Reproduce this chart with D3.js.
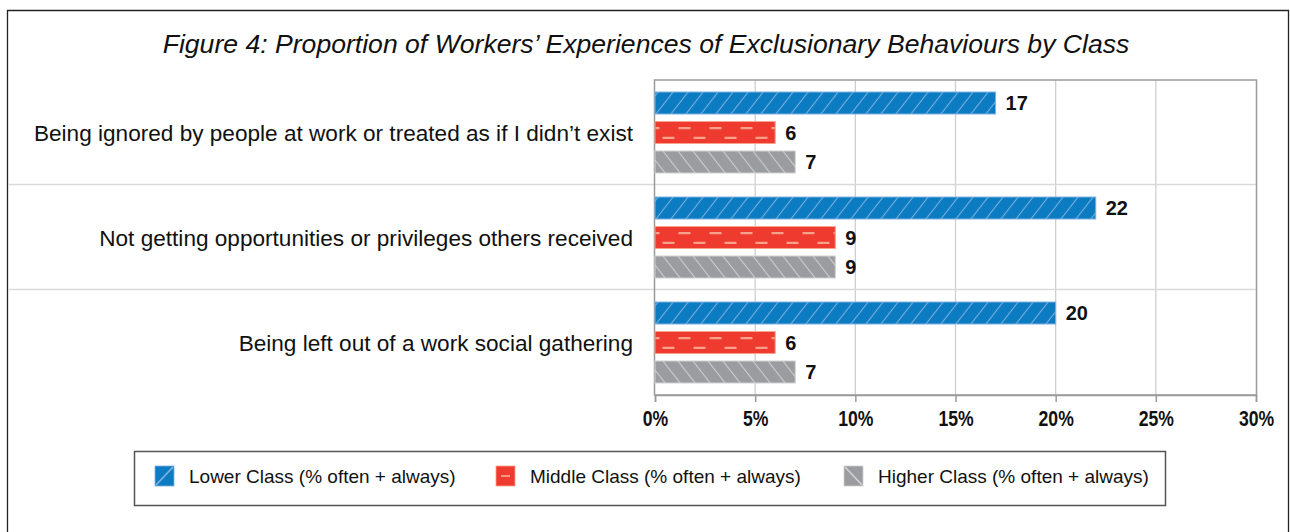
<!DOCTYPE html>
<html>
<head>
<meta charset="utf-8">
<script src="https://cdn.jsdelivr.net/npm/d3@7/dist/d3.min.js"></script>
<style>
  html, body { margin: 0; padding: 0; background: #fff; }
  svg { display: block; }
</style>
</head>
<body>
<svg id="chart" width="1290" height="532"></svg>
<script>
// Behaviours (rows), classes (series) and shares in percent
const categories = [
  "Being ignored by people at work or treated as if I didn’t exist",
  "Not getting opportunities or privileges others received",
  "Being left out of a work social gathering"
];
const seriesNames = [
  "Lower Class (% often + always)",
  "Middle Class (% often + always)",
  "Higher Class (% often + always)"
];
const lowerClass  = [17, 22, 20];
const middleClass = [6, 9, 6];
const higherClass = [7, 9, 7];
const tickValues = [0, 5, 10, 15, 20, 25, 30];
const titleText = "Figure 4: Proportion of Workers’ Experiences of Exclusionary Behaviours by Class";

const seriesValues = [lowerClass, middleClass, higherClass];
const seriesKeys = ["lower", "middle", "higher"];

const svg = d3.select("#chart");
const W = 1290, H = 532;
const plot = { left: 655, right: 1256, top: 80, bottom: 395 };

const fontSans = "'Liberation Sans', Arial, Helvetica, sans-serif";

// ---- fill patterns ----
const defs = svg.append("defs");
const fills = {
  lower:  { base: "#0b7cc1", line: "#80b0e0" },
  middle: { base: "#ee3a2f", line: "#f7a38c" },
  higher: { base: "#9b9c9f", line: "#d0d0d3" }
};

// slanted hatch: vertical strokes sheared into diagonals
function hatch(id, base, line, skew) {
  const p = defs.append("pattern").attr("id", id)
    .attr("patternUnits", "userSpaceOnUse")
    .attr("width", 15).attr("height", 15)
    .attr("patternTransform", `skewX(${skew})`);
  p.append("rect").attr("x", -1).attr("y", -1).attr("width", 17).attr("height", 17).attr("fill", base);
  p.append("line").attr("x1", 7.5).attr("x2", 7.5).attr("y1", -1).attr("y2", 16)
    .attr("stroke", line).attr("stroke-width", 1.3);
}
hatch("pat-lower", fills.lower.base, fills.lower.line, -38);
hatch("pat-higher", fills.higher.base, fills.higher.line, 38);

// ---- outer frame (open at the bottom) ----
svg.append("path")
  .attr("d", `M7.5,${H + 2}V10.5H1288.5V${H + 2}`)
  .attr("fill", "none").attr("stroke", "#222").attr("stroke-width", 1.3);

// ---- title ----
svg.append("text")
  .attr("x", 646).attr("y", 53)
  .attr("text-anchor", "middle")
  .attr("font-family", fontSans).attr("font-style", "italic")
  .attr("font-size", 26.6).attr("fill", "#111")
  .text(titleText);

// ---- scales ----
const x = d3.scaleLinear().domain([0, 30]).range([plot.left, plot.right]);
const y0 = d3.scaleBand().domain(categories).range([plot.top, plot.bottom]).padding(0);
const y1 = d3.scaleBand().domain(seriesKeys).range([0, y0.bandwidth()])
  .paddingInner(0.254).paddingOuter(0.407);

// ---- vertical gridlines ----
svg.append("g").selectAll("line")
  .data(tickValues.slice(1, -1))
  .join("line")
  .attr("x1", d => x(d)).attr("x2", d => x(d))
  .attr("y1", plot.top).attr("y2", plot.bottom)
  .attr("stroke", "#cfcfcf").attr("stroke-width", 1.3);

// ---- row separators extending across the labels ----
svg.append("g").selectAll("line")
  .data(categories.slice(1))
  .join("line")
  .attr("x1", 8).attr("x2", plot.right)
  .attr("y1", d => Math.round(y0(d)) - 0.5).attr("y2", d => Math.round(y0(d)) - 0.5)
  .attr("stroke", "#d9d9d9").attr("stroke-width", 1.3);

// ---- plot border ----
svg.append("rect")
  .attr("x", plot.left - 0.5).attr("y", plot.top)
  .attr("width", plot.right - plot.left + 1).attr("height", plot.bottom - plot.top)
  .attr("fill", "none").attr("stroke", "#9a9a9a").attr("stroke-width", 1.5);

// ---- bottom axis (condensed bold labels) ----
const xAxis = d3.axisBottom(x).tickValues(tickValues)
  .tickFormat(d => d + "%").tickSize(7).tickPadding(8);
const gx = svg.append("g").attr("transform", `translate(0,${plot.bottom})`).call(xAxis);
gx.select(".domain").attr("stroke", "#9a9a9a").attr("stroke-width", 1.5);
gx.selectAll(".tick line").attr("stroke", "#9a9a9a").attr("stroke-width", 1.5);
gx.selectAll(".tick text")
  .attr("font-family", fontSans).attr("font-weight", "bold")
  .attr("font-size", 22).attr("fill", "#111")
  .attr("transform", "scale(0.8,1)");

// ---- category labels ----
svg.append("g").selectAll("text")
  .data(categories)
  .join("text")
  .attr("x", 633)
  .attr("y", d => y0(d) + y0.bandwidth() / 2 + 1)
  .attr("dy", "0.35em")
  .attr("text-anchor", "end")
  .attr("font-family", fontSans).attr("font-size", 22.6).attr("fill", "#111")
  .text(d => d);

// ---- bars and value labels ----
const rows = categories.map((c, i) => ({
  category: c,
  values: seriesKeys.map((k, j) => ({ key: k, value: seriesValues[j][i] }))
}));

const groups = svg.append("g").selectAll("g")
  .data(rows)
  .join("g")
  .attr("transform", d => `translate(0,${y0(d.category)})`);

groups.selectAll("rect")
  .data(d => d.values)
  .join("rect")
  .attr("x", x(0))
  .attr("y", d => y1(d.key))
  .attr("width", d => x(d.value) - x(0))
  .attr("height", y1.bandwidth())
  .attr("fill", d => d.key === "middle" ? fills.middle.base : `url(#pat-${d.key})`)
  .attr("stroke", d => fills[d.key].line)
  .attr("stroke-width", 1);

// two staggered rows of dashes inside the middle-class bars
const bh = y1.bandwidth();
const dashRows = [
  { dy: bh * 0.30, offset: 8 },
  { dy: bh * 0.74, offset: 24 }
];
groups.each(function (d) {
  const mid = d.values.find(v => v.key === "middle");
  d3.select(this).selectAll("line.dash")
    .data(dashRows)
    .join("line").attr("class", "dash")
    .attr("x1", x(0) + 0.5).attr("x2", x(mid.value) - 0.5)
    .attr("y1", r => y1("middle") + r.dy).attr("y2", r => y1("middle") + r.dy)
    .attr("stroke", fills.middle.line).attr("stroke-width", 2.2)
    .attr("stroke-dasharray", "12,19")
    .attr("stroke-dashoffset", r => r.offset);
});

groups.selectAll("text")
  .data(d => d.values)
  .join("text")
  .attr("x", d => x(d.value) + 10)
  .attr("y", d => y1(d.key) + y1.bandwidth() / 2)
  .attr("dy", "0.36em")
  .attr("font-family", fontSans).attr("font-weight", "bold")
  .attr("font-size", 20).attr("fill", "#111")
  .text(d => d.value);

// ---- legend ----
const legend = svg.append("g");
legend.append("rect")
  .attr("x", 134.5).attr("y", 451.5).attr("width", 1031).attr("height", 54)
  .attr("fill", "none").attr("stroke", "#555").attr("stroke-width", 1.5);

const legendItems = [
  { key: "lower",  name: seriesNames[0], x: 155 },
  { key: "middle", name: seriesNames[1], x: 496 },
  { key: "higher", name: seriesNames[2], x: 844 }
];
const sw = 19, sh = 20;
const li = legend.selectAll("g.item")
  .data(legendItems)
  .join("g").attr("class", "item")
  .attr("transform", d => `translate(${d.x},${466})`);
li.append("rect").attr("width", sw).attr("height", sh)
  .attr("fill", d => fills[d.key].base)
  .attr("stroke", d => fills[d.key].line).attr("stroke-width", 0.8);
li.append("path")
  .attr("d", d => d.key === "lower" ? `M1,${sh - 1}L${sw - 1},1`
                 : d.key === "higher" ? `M1,1L${sw - 1},${sh - 1}`
                 : `M5,${sh / 2}H${sw - 5}`)
  .attr("stroke", d => fills[d.key].line).attr("stroke-width", 1.8);
li.append("text")
  .attr("x", 34).attr("y", sh / 2).attr("dy", "0.35em")
  .attr("font-family", fontSans).attr("font-size", 19).attr("fill", "#111")
  .text(d => d.name);
</script>
</body>
</html>
